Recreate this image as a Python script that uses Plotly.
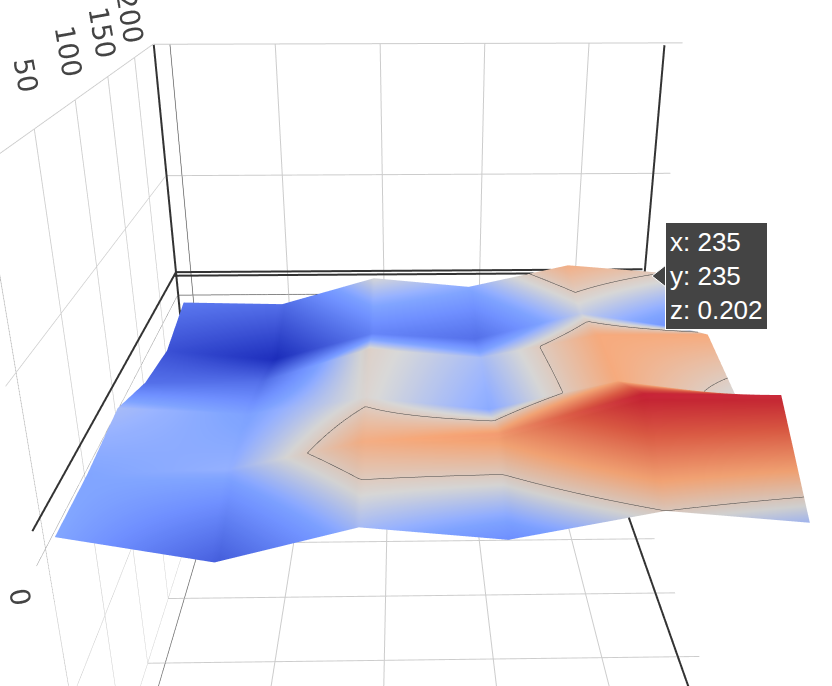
"""Surface of z values over a 6x6 grid with a single contour and hover spikes."""

import plotly.graph_objects as go

x_vals = [-4, 47, 95, 144, 195, 243]
y_vals = [-1, 41, 90, 138, 186, 235]
# rows run front to back
z_row0 = [0.08, -0.085, 0.12, 0.035, 0.20, 0.12]
z_row1 = [0.08, 0.10, 0.27, 0.31, 0.55, 0.54]
z_row2 = [0.12, 0.07, 0.18, 0.09, 0.28, 0.17]
z_row3 = [-0.05, -0.05, 0.19, 0.12, 0.28, 0.28]
z_row4 = [-0.13, -0.21, 0.0, -0.05, 0.15, 0.03]
z_row5 = [-0.03, -0.05, 0.17, 0.09, 0.27, 0.202]
z_grid = [z_row0, z_row1, z_row2, z_row3, z_row4, z_row5]

x_range = [-8, 245]
y_range = [-10, 241]
z_range = [-2, 2]
hover_x, hover_y, hover_z = 235, 235, 0.202
contour_level = 0.2

WIDTH = 848
HEIGHT = 935
TOP_OFFSET = 72
# keeps the spike lines just inside the box, they vanish right on its edge
WALL_INSET = 0.4

colors = [
    [0.0, "#0f20ae"],
    [0.38, "#7296ff"],
    [0.5, "#c8c8c8"],
    [0.65, "#e8996a"],
    [0.83, "#d0503a"],
    [1.0, "#b81428"],
]
tick_font = dict(family="DejaVu Sans", size=18, color="#444")
axis_style = dict(
    title="",
    gridcolor="#ccc",
    zeroline=True,
    zerolinecolor="#444",
    showbackground=False,
    tickfont=tick_font,
)

fig = go.Figure(
    go.Surface(
        x=x_vals,
        y=y_vals,
        z=z_grid,
        colorscale=colors,
        cmin=-0.21,
        cmax=0.55,
        showscale=False,
        contours_z=dict(
            show=True,
            start=contour_level,
            end=contour_level + 0.01,
            size=0.1,
            color="#444",
            width=1,
        ),
    )
)

# spike lines the hover draws from the picked point to the walls
x_wall = x_range[0] + WALL_INSET
x_far = x_range[1] - WALL_INSET
y_wall = y_range[1] - WALL_INSET
y_near = y_range[0] + WALL_INSET
z_top = z_range[1] - WALL_INSET / 100
z_floor = z_range[0] + WALL_INSET / 100
spike_segments = [
    ((hover_x, hover_y, hover_z), (hover_x, hover_y, z_top)),
    ((hover_x, hover_y, hover_z), (x_wall, hover_y, hover_z)),
    ((hover_x, y_wall, hover_z), (x_wall, y_wall, hover_z)),
    ((x_wall, y_wall, z_top), (x_wall, y_wall, z_floor)),
    ((x_wall, y_wall, hover_z), (x_wall, y_near, hover_z)),
    ((hover_x, y_wall, z_floor), (hover_x, y_near, z_floor)),
    ((hover_x, y_wall, z_floor), (x_far, y_wall, z_floor)),
]
for start, end in spike_segments:
    fig.add_trace(
        go.Scatter3d(
            x=[start[0], end[0]],
            y=[start[1], end[1]],
            z=[start[2], end[2]],
            mode="lines",
            line=dict(color="#333", width=4),
            hoverinfo="skip",
            showlegend=False,
        )
    )


def paper_x(px):
    return px / WIDTH


def paper_y(py):
    return 1 - (py + TOP_OFFSET) / HEIGHT


# hover label drawn by hand, since nothing hovers in a still page
fig.add_shape(
    type="path",
    xref="paper",
    yref="paper",
    path=(
        f"M {paper_x(652)} {paper_y(276)} L {paper_x(666)} {paper_y(265)} "
        f"L {paper_x(666)} {paper_y(287)} Z"
    ),
    fillcolor="#444",
    line=dict(color="white", width=1),
)
fig.add_annotation(
    x=paper_x(665),
    y=paper_y(276),
    xref="paper",
    yref="paper",
    xanchor="left",
    yanchor="middle",
    align="left",
    text="x: 235<br>y: 235<br>z: 0.202",
    showarrow=False,
    font=dict(family="Liberation Sans", size=26, color="white"),
    bgcolor="#444",
    bordercolor="white",
    borderwidth=1,
    borderpad=4,
)

# long white ticks only push the labels away from the box
label_push = dict(ticks="outside", ticklen=15, tickcolor="white")

fig.update_layout(
    width=WIDTH,
    height=HEIGHT,
    margin=dict(l=0, r=0, t=0, b=0),
    paper_bgcolor="white",
    scene=dict(
        camera=dict(eye=dict(x=-0.033, y=-1.712, z=0.80)),
        xaxis=dict(range=x_range, **axis_style),
        yaxis=dict(range=y_range, tickangle=80, **label_push, **axis_style),
        zaxis=dict(range=z_range, dtick=1, tickangle=80, **label_push, **axis_style),
    ),
)
fig.write_html(
    "out.html",
    config=dict(displayModeBar=False),
    post_script=(
        f"document.body.style.margin='-{TOP_OFFSET}px 0 0 0';"
        "document.documentElement.style.overflow='hidden';"
    ),
)
